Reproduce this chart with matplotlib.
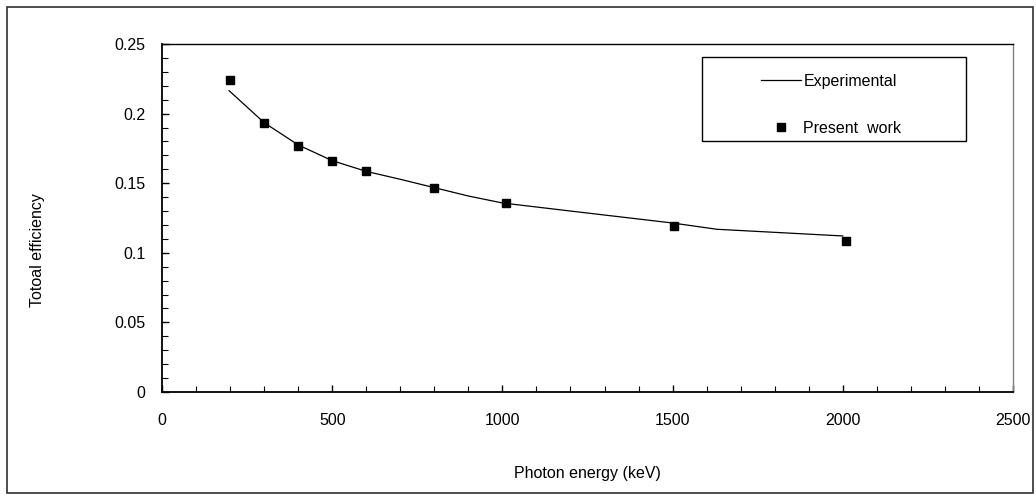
import matplotlib
matplotlib.use('Agg')
import matplotlib.pyplot as plt
from matplotlib.patches import Rectangle
from matplotlib.ticker import MultipleLocator

# experimental curve
exp_energy = [197, 300, 400, 500, 600, 700, 800, 900, 1000, 1200, 1500, 1630, 2000]
exp_eff = [0.2165, 0.1935, 0.1775, 0.1662, 0.1585, 0.1528, 0.1468, 0.1408, 0.1358,
           0.1300, 0.1214, 0.1169, 0.1121]

# present work (squares)
pw_energy = [200, 300, 400, 500, 600, 800, 1010, 1505, 2010]
pw_eff = [0.2241, 0.1935, 0.1770, 0.1660, 0.1585, 0.1465, 0.1358, 0.1193, 0.1085]

plt.rcParams['font.family'] = ['Liberation Sans', 'DejaVu Sans']
plt.rcParams['font.size'] = 11.5

fig = plt.figure(figsize=(10.36, 5.0), dpi=100)
ax = fig.add_axes([162 / 1036, 108 / 500, 851 / 1036, 348 / 500])

ax.plot(exp_energy, exp_eff, color='black', lw=0.9, label='Experimental')
ax.plot(pw_energy, pw_eff, ls='none', marker='s', ms=5.8, color='black',
        label='Present  work')

ax.set_xlim(0, 2500)
ax.set_ylim(0, 0.25)
ax.xaxis.set_major_locator(MultipleLocator(500))
ax.xaxis.set_minor_locator(MultipleLocator(100))
ax.yaxis.set_minor_locator(MultipleLocator(0.01))
ax.set_yticks([0, 0.05, 0.1, 0.15, 0.2, 0.25])
ax.set_yticklabels(['0', '0.05', '0.1', '0.15', '0.2', '0.25'])
ax.tick_params(which='both', direction='in', top=False, right=False, color='black')
ax.tick_params(which='major', length=5, width=1)
ax.tick_params(which='minor', length=4, width=0.8)
ax.tick_params(axis='x', which='major', pad=15)
ax.tick_params(axis='y', which='major', pad=12)

for s in ('left', 'bottom'):
    ax.spines[s].set_color('black')
    ax.spines[s].set_linewidth(1.3)
ax.spines['top'].set_color('black')
ax.spines['top'].set_linewidth(1.0)
ax.spines['right'].set_color('#808080')
ax.spines['right'].set_linewidth(1.0)

ax.set_xlabel('Photon energy (keV)', labelpad=0)
ax.xaxis.set_label_coords(0.5, -0.213, transform=ax.transAxes)
ax.set_ylabel('Totoal efficiency')
ax.yaxis.set_label_coords(45 / 1036, 0.5, transform=fig.transFigure)

# legend with a plain box
leg = ax.legend(loc='upper left', bbox_to_anchor=(761 / 1036, 1 - 74 / 500),
                bbox_transform=fig.transFigure, frameon=False,
                handlelength=2.5, handletextpad=0.15, labelspacing=2.0,
                borderpad=0, borderaxespad=0)
fig.patches.append(Rectangle((702 / 1036, 1 - 141 / 500), 264 / 1036, 84 / 500,
                             transform=fig.transFigure, fill=False,
                             edgecolor='black', lw=1.0))

# outer chart border
fig.patches.append(Rectangle((7 / 1036, 7 / 500), 1026 / 1036, 486 / 500,
                             transform=fig.transFigure, fill=False,
                             edgecolor='#303030', lw=1.2))

fig.savefig('out.png', dpi=100)
